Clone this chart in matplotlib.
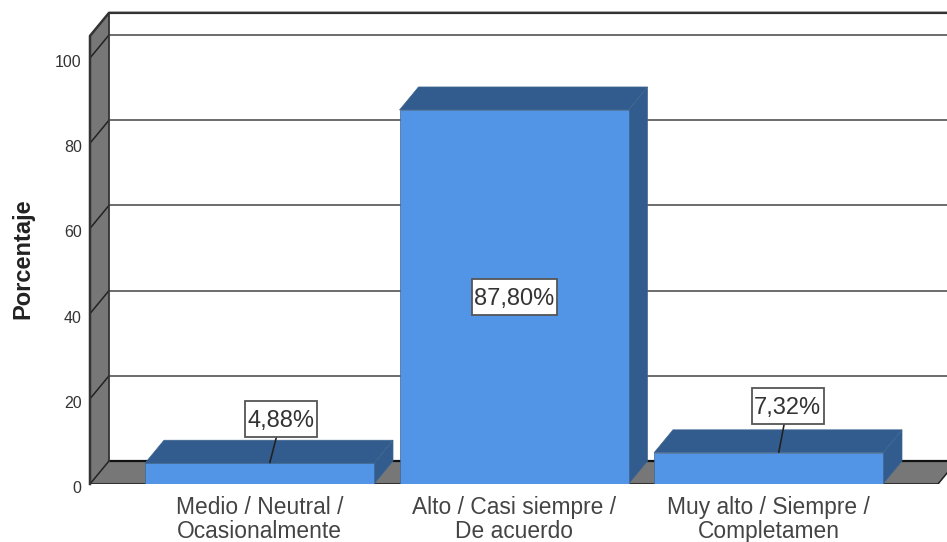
import matplotlib
matplotlib.use("Agg")
import matplotlib.pyplot as plt
from matplotlib.patches import Polygon, Rectangle
from matplotlib.transforms import ScaledTranslation

plt.rcParams['font.family'] = ['Liberation Sans', 'DejaVu Sans']

categories = ["Medio / Neutral /\nOcasionalmente", "Alto / Casi siempre /\nDe acuerdo", "Muy alto / Siempre /\nCompletamen"]
values = [4.88, 87.80, 7.32]
labels = ["4,88%", "87,80%", "7,32%"]
yticks = [0, 20, 40, 60, 80, 100]
label_pos = [(0.085, 15.3), (1.0, 43.8), (2.075, 18.3)]
label_w = [72, 85, 72]

W, H = 947, 542
fig = plt.figure(figsize=(W / 100, H / 100), dpi=100, facecolor='white')
ax = fig.add_axes([90 / W, (H - 484) / H, (W - 90) / W, 471 / H])
ppu = 4.26
pxc = 254.5
ax.set_ylim(0, 471 / ppu)
ax.set_xlim((90 - 259.5) / pxc, (947 - 259.5) / pxc)
DX, DY = 19 / pxc, 23 / ppu
x0 = ax.get_xlim()[0]
xr = (938 - 259.5) / pxc
top = 105.2
FLOOR = '#777777'
BLUE = '#5294E6'
DARK = '#335C8E'
EDGE = '#3F668F'

# floor and wall
ax.add_patch(Polygon([(x0, 0), (xr, 0), (xr + DX, DY), (x0 + DX, DY)], fc=FLOOR, ec='none', zorder=1))
ax.add_patch(Polygon([(x0, 0), (x0 + DX, DY), (x0 + DX, top + DY), (x0, top)], fc=FLOOR, ec='none', zorder=1))
for t in yticks:
    lw = 1.6 if t == 0 else 1.1
    col = '#111111' if t == 0 else '#444444'
    ax.plot([x0 + DX, xr + DX + 1], [t + DY, t + DY], color=col, lw=lw, zorder=2)
    ax.plot([x0, x0 + DX], [t, t + DY], color='#222222', lw=1.1, zorder=2)
ax.plot([x0, x0, x0 + DX, xr + DX + 1], [0, top, top + DY, top + DY], color='#333333', lw=1.8, zorder=3, clip_on=False)
ax.plot([x0 + DX, x0 + DX], [0 + DY, top + DY], color='#333333', lw=1.3, zorder=3)
ax.plot([x0, xr], [0, 0], color='#333333', lw=1.5, zorder=3)
ax.plot([xr, xr + DX], [0, DY], color='#222222', lw=1.1, zorder=3)

# bars
BW = 229 / pxc
xs = list(range(len(values)))
for x, v in zip(xs, values):
    l, r = x - BW / 2, x + BW / 2
    ax.add_patch(Polygon([(r, 0), (r + DX, DY), (r + DX, v + DY), (r, v)], fc=DARK, ec=EDGE, lw=0.5, zorder=4))
    ax.add_patch(Polygon([(l, v), (r, v), (r + DX, v + DY), (l + DX, v + DY)], fc=DARK, ec=EDGE, lw=0.5, zorder=4))
ax.bar(xs, values, width=BW, color=BLUE, edgecolor=EDGE, linewidth=0.5, zorder=5)

# data labels
box_h = 36 / ppu
down = ScaledTranslation(0, -2 / 100, fig.dpi_scale_trans)
for x, v, s, (lx, ly), w in zip(xs, values, labels, label_pos, label_w):
    if v < 20:
        ax.plot([x + 0.04, lx], [v, ly], color='#222222', lw=1.2, zorder=6, solid_capstyle='butt')
    bw = w / pxc
    ax.add_patch(Rectangle((lx - bw / 2, ly - box_h / 2), bw, box_h, fc='white', ec='#555555', lw=1.3, zorder=7))
    ax.text(lx, ly, s, ha='center', va='center', fontsize=17, color='#333333', zorder=8,
            transform=ax.transData + down)

ax.set_xticks(xs)
ax.set_xticklabels(categories, fontsize=16.4, color='#444444', linespacing=1.08)
ax.set_yticks(yticks)
ax.set_yticklabels([str(t) for t in yticks], fontsize=11.5, color='#333333')
ax.tick_params(axis='both', length=0)
ax.tick_params(axis='x', pad=8.5)
ax.tick_params(axis='y', pad=6)
shift = ScaledTranslation(0, -3 / 100, fig.dpi_scale_trans)
for t in ax.get_yticklabels():
    t.set_transform(t.get_transform() + shift)
for s in ax.spines.values():
    s.set_visible(False)
ax.patch.set_alpha(0)
fig.text(23 / W, 1 - 259 / H, "Porcentaje", rotation=90, ha='center', va='center', fontsize=17, fontweight='bold', color='#222222')
fig.savefig('out.png', dpi=100)
